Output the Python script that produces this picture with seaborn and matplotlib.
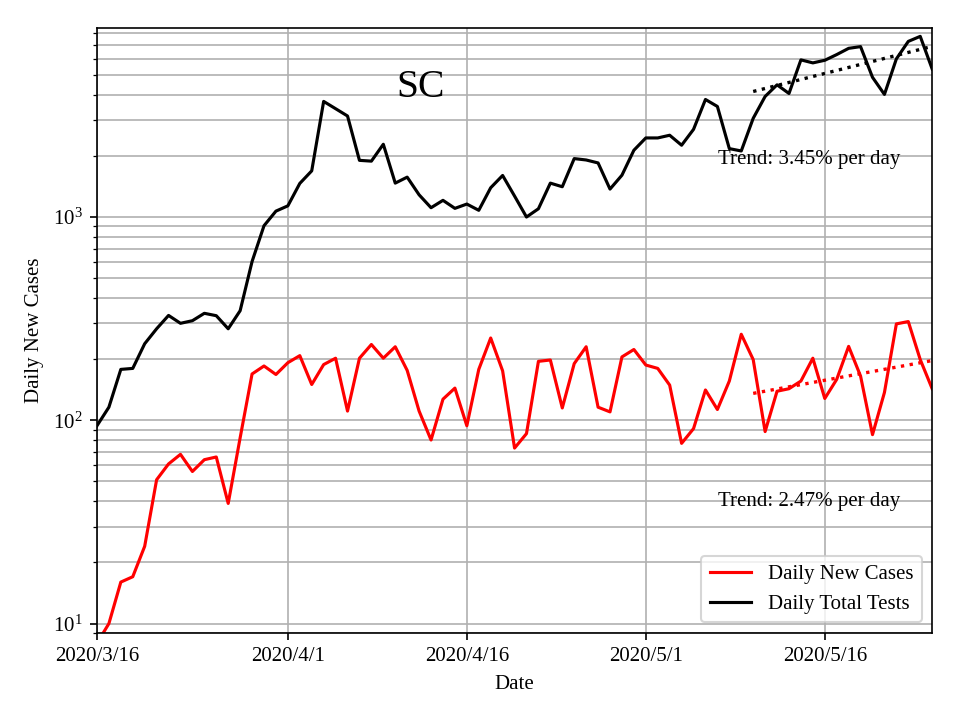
import numpy as np
import pandas as pd
import matplotlib
matplotlib.use('Agg')
import matplotlib.pyplot as plt
import seaborn as sns

# Daily values, 2020/3/16 .. 2020/5/25
start_date = '2020-03-16'
new_cases = [8, 10, 16, 17, 24, 51, 61, 68, 56, 64, 66, 39, 82, 169, 185, 168,
             192, 208, 150, 188, 202, 111, 202, 236, 202, 230, 176, 111, 80, 127,
             144, 94, 178, 254, 175, 73, 86, 195, 198, 115, 190, 230, 116, 110,
             205, 223, 187, 180, 149, 77, 91, 141, 113, 156, 265, 199, 88, 139,
             143, 156, 202, 128, 159, 231, 165, 85, 137, 298, 306, 199, 143]
total_tests = [94, 116, 178, 180, 238, 282, 328, 300, 309, 336, 327, 282, 346,
               604, 906, 1069, 1135, 1463, 1687, 3704, 3411, 3140, 1900, 1883,
               2280, 1468, 1571, 1286, 1111, 1208, 1103, 1158, 1079, 1393, 1601,
               1268, 1000, 1098, 1468, 1409, 1938, 1908, 1845, 1372, 1606, 2130,
               2449, 2449, 2525, 2255, 2699, 3786, 3498, 2170, 2113, 3058, 3918,
               4470, 4052, 5929, 5731, 5902, 6296, 6757, 6890, 4867, 4009, 5997,
               7310, 7739, 5349]

tick_dates = ['2020-03-16', '2020-04-01', '2020-04-16', '2020-05-01', '2020-05-16']
tick_labels = ['2020/3/16', '2020/4/1', '2020/4/16', '2020/5/1', '2020/5/16']

trend_days = 16
trend_texts = ['Trend: 3.45% per day', 'Trend: 2.47% per day']

dates = pd.date_range(start_date, periods=len(new_cases), freq='D')
df = pd.DataFrame({'date': dates, 'cases': new_cases, 'tests': total_tests})

plt.rcParams['font.family'] = ['Liberation Serif', 'DejaVu Serif']
plt.rcParams['font.size'] = 10

fig, ax = plt.subplots(figsize=(6.4, 4.8), dpi=150)
fig.subplots_adjust(left=0.101, right=0.971, top=0.961, bottom=0.121)

sns.lineplot(data=df, x='date', y='cases', color='red', label='Daily New Cases', ax=ax)
sns.lineplot(data=df, x='date', y='tests', color='black', label='Daily Total Tests', ax=ax)

# exponential trend over the last days
tail = df.iloc[-trend_days:]
t = np.arange(trend_days)
for col, color in [('tests', 'black'), ('cases', 'red')]:
    slope, icpt = np.polyfit(t, np.log(tail[col].values), 1)
    ax.plot(tail['date'], np.exp(icpt + slope * t), ':', color=color, lw=1.6)

ax.set_yscale('log')
ax.set_ylim(9, 8500)
ax.set_xlim(dates[0], dates[-1])
ax.set_xticks(pd.to_datetime(tick_dates))
ax.set_xticklabels(tick_labels)

ax.grid(True, which='major', color='#b0b0b0', lw=0.8)
ax.grid(True, which='minor', axis='y', color='#b0b0b0', lw=0.8)

ax.text(0.388, 0.902, 'SC', transform=ax.transAxes, fontsize=19, ha='center', va='center')
ax.text(0.744, 0.782, trend_texts[0], transform=ax.transAxes, ha='left', va='center')
ax.text(0.744, 0.218, trend_texts[1], transform=ax.transAxes, ha='left', va='center')

ax.set_xlabel('Date')
ax.set_ylabel('Daily New Cases')
ax.legend(loc='lower right')

plt.savefig('out.png', dpi=150)
